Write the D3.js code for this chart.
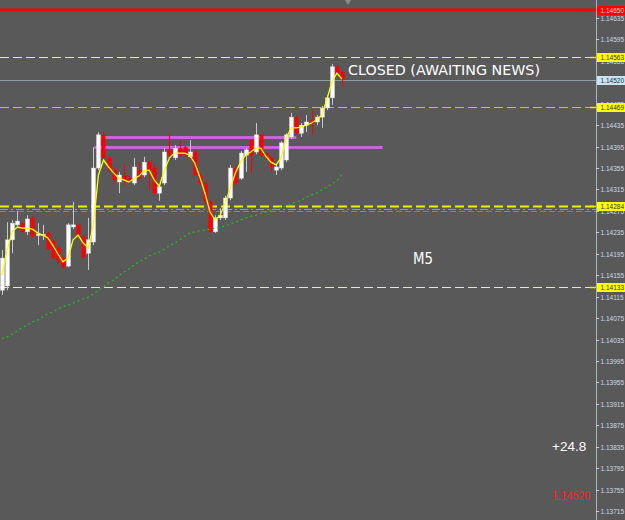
<!DOCTYPE html>
<html><head><meta charset="utf-8">
<script src="https://cdn.jsdelivr.net/npm/d3@7/dist/d3.min.js"></script>
<style>html,body{margin:0;padding:0;background:#595959;overflow:hidden}svg{display:block}</style>
</head><body>
<svg id="c" width="625" height="520"></svg>
<script>
// ---- data (M5 candles) ----
const opens  = [1.14127,1.14135,1.14221,1.14249,1.14252,1.14236,1.14262,1.14229,1.14230,1.14234,1.14219,1.14206,1.14187,1.14172,1.14245,1.14249,1.14227,1.14196,1.14217,1.14355,1.14417,1.14374,1.14351,1.14329,1.14342,1.14336,1.14327,1.14351,1.14342,1.14366,1.14355,1.14308,1.14327,1.14389,1.14374,1.14392,1.14394,1.14376,1.14385,1.14342,1.14327,1.14292,1.14236,1.14262,1.14262,1.14299,1.14355,1.14336,1.14379,1.14407,1.14385,1.14417,1.14383,1.14374,1.14351,1.14355,1.14370,1.14413,1.14450,1.14420,1.14435,1.14445,1.14441,1.14450,1.14467,1.14486,1.14544,1.14534];
const highs  = [1.14202,1.14254,1.14258,1.14275,1.14254,1.14267,1.14265,1.14252,1.14249,1.14236,1.14221,1.14210,1.14191,1.14252,1.14292,1.14252,1.14230,1.14262,1.14394,1.14422,1.14422,1.14379,1.14357,1.14348,1.14361,1.14340,1.14374,1.14366,1.14376,1.14370,1.14361,1.14323,1.14392,1.14417,1.14398,1.14407,1.14396,1.14407,1.14389,1.14346,1.14331,1.14295,1.14267,1.14280,1.14303,1.14361,1.14359,1.14387,1.14392,1.14407,1.14439,1.14420,1.14385,1.14377,1.14361,1.14405,1.14420,1.14458,1.14454,1.14439,1.14454,1.14463,1.14454,1.14471,1.14491,1.14549,1.14547,1.14538];
const lows   = [1.14118,1.14127,1.14196,1.14247,1.14234,1.14230,1.14225,1.14211,1.14221,1.14202,1.14185,1.14176,1.14167,1.14170,1.14241,1.14225,1.14185,1.14165,1.14211,1.14351,1.14370,1.14348,1.14327,1.14308,1.14323,1.14325,1.14323,1.14333,1.14338,1.14314,1.14305,1.14294,1.14323,1.14374,1.14370,1.14376,1.14374,1.14374,1.14340,1.14323,1.14288,1.14234,1.14234,1.14258,1.14258,1.14295,1.14323,1.14333,1.14348,1.14346,1.14381,1.14376,1.14370,1.14348,1.14342,1.14351,1.14366,1.14409,1.14417,1.14413,1.14422,1.14417,1.14435,1.14430,1.14463,1.14473,1.14529,1.14506];
const closes = [1.14187,1.14221,1.14252,1.14256,1.14236,1.14260,1.14227,1.14232,1.14231,1.14204,1.14187,1.14180,1.14170,1.14249,1.14249,1.14227,1.14189,1.14221,1.14355,1.14417,1.14374,1.14351,1.14333,1.14342,1.14333,1.14329,1.14357,1.14336,1.14366,1.14348,1.14308,1.14320,1.14385,1.14379,1.14392,1.14379,1.14383,1.14385,1.14342,1.14327,1.14292,1.14236,1.14262,1.14267,1.14299,1.14355,1.14327,1.14383,1.14389,1.14379,1.14417,1.14379,1.14374,1.14357,1.14357,1.14402,1.14417,1.14450,1.14420,1.14435,1.14441,1.14439,1.14450,1.14467,1.14486,1.14544,1.14532,1.14520];
// fast moving average (yellow)
const fastMA = [1.14155,1.14202,1.14236,1.14245,1.14243,1.14243,1.14241,1.14234,1.14230,1.14225,1.14211,1.14195,1.14180,1.14187,1.14221,1.14230,1.14215,1.14206,1.14249,1.14342,1.14370,1.14357,1.14346,1.14336,1.14333,1.14329,1.14335,1.14340,1.14350,1.14351,1.14333,1.14321,1.14351,1.14374,1.14383,1.14383,1.14383,1.14379,1.14364,1.14338,1.14308,1.14273,1.14258,1.14267,1.14290,1.14318,1.14346,1.14366,1.14379,1.14385,1.14392,1.14392,1.14377,1.14366,1.14361,1.14374,1.14411,1.14430,1.14430,1.14432,1.14435,1.14439,1.14445,1.14454,1.14482,1.14516,1.14532,1.14521];
// slow moving average (green dotted)
const slowMA = [1.14036,1.14040,1.14045,1.14051,1.14057,1.14062,1.14068,1.14071,1.14077,1.14083,1.14086,1.14092,1.14096,1.14099,1.14103,1.14107,1.14111,1.14114,1.14120,1.14127,1.14133,1.14141,1.14146,1.14154,1.14161,1.14167,1.14174,1.14180,1.14185,1.14191,1.14195,1.14198,1.14204,1.14210,1.14215,1.14221,1.14228,1.14234,1.14236,1.14238,1.14239,1.14241,1.14243,1.14244,1.14247,1.14251,1.14254,1.14258,1.14262,1.14265,1.14267,1.14271,1.14273,1.14277,1.14279,1.14282,1.14284,1.14288,1.14292,1.14295,1.14301,1.14305,1.14308,1.14314,1.14320,1.14325,1.14331,1.14344];
// price axis ticks
const tickValues = [1.13715,1.13755,1.13795,1.13835,1.13875,1.13915,1.13955,1.13995,1.14035,1.14075,1.14115,1.14155,1.14195,1.14235,1.14275,1.14315,1.14355,1.14395,1.14435,1.14475,1.14515,1.14555,1.14595,1.14635];
// horizontal levels
const stopLevel = 1.14650;
const dashedLevels = [1.14563, 1.14469, 1.14284, 1.14133];
const bidPrice = 1.14520;
const orangeLevel = 1.14279;
const blueLevel = 1.14275;
const tagLevels = [1.14650, 1.14563, 1.14520, 1.14469, 1.14284, 1.14133];
// violet levels: price, start bar, end bar
const violetPrices = [1.14413, 1.14394];
const violetStart = [19.6, 18.2];
const violetEnd = [58, 75];
const comment = "CLOSED (AWAITING NEWS)";
const tfLabel = "M5";
const profitText = "+24.8";
const bidText = "1.14520";

// ---- drawing ----
const W = 625, H = 520, axisX = 596;
const svg = d3.select("#c");
const y = d3.scaleLinear().domain([1.136982, 1.146686]).range([H, 0]);
const x = d3.scaleLinear().domain([0, closes.length - 1]).range([2, 342]);
const fmt = d3.format(".5f");
const py = p => Math.round(y(p)) + 0.5;

svg.append("rect").attr("width", W).attr("height", H).attr("fill", "#595959");

// violet levels (behind candles)
violetPrices.forEach((p, i) => {
  svg.append("line")
    .attr("x1", x(violetStart[i])).attr("x2", x(violetEnd[i]))
    .attr("y1", py(p)).attr("y2", py(p))
    .attr("stroke", "#c466d6").attr("stroke-width", 3);
});

// horizontal level lines
const lv = svg.append("g");
lv.append("line").attr("x1", 0).attr("x2", W)
  .attr("y1", y(stopLevel)).attr("y2", y(stopLevel))
  .attr("stroke", "#ff0000").attr("stroke-width", 3);
const dashColors = ["#e6e6c0", "#c8c820", "#f0f000", "#e6e6d0"];
const dashWidths = [1, 1, 2, 1];
dashedLevels.forEach((p, i) => {
  lv.append("line").attr("x1", 0).attr("x2", axisX)
    .attr("y1", py(p)).attr("y2", py(p))
    .attr("stroke", dashColors[i]).attr("stroke-width", dashWidths[i])
    .attr("stroke-dasharray", "9,4");
});
lv.append("line").attr("x1", 0).attr("x2", axisX)
  .attr("y1", py(orangeLevel)).attr("y2", py(orangeLevel))
  .attr("stroke", "#e08a20").attr("stroke-width", 1).attr("stroke-dasharray", "8,3,2,3");
lv.append("line").attr("x1", 0).attr("x2", axisX)
  .attr("y1", py(blueLevel)).attr("y2", py(blueLevel))
  .attr("stroke", "#6a88a8").attr("stroke-width", 1).attr("stroke-dasharray", "6,3");
lv.append("line").attr("x1", 0).attr("x2", axisX)
  .attr("y1", py(bidPrice)).attr("y2", py(bidPrice))
  .attr("stroke", "#8e9caa").attr("stroke-width", 1);

// candles
const cg = svg.append("g");
closes.forEach((c, i) => {
  const o = opens[i], up = c >= o;
  const cx = Math.round(x(i)) + 0.5;
  cg.append("line").attr("x1", cx).attr("x2", cx)
    .attr("y1", y(highs[i])).attr("y2", y(lows[i]))
    .attr("stroke", up ? "#c8c8c8" : "#ff0000").attr("stroke-width", 1);
  const top = y(Math.max(o, c)), bot = y(Math.min(o, c));
  cg.append("rect").attr("x", cx - 2).attr("width", 4)
    .attr("y", top).attr("height", Math.max(1, bot - top))
    .attr("fill", up ? "#ffffff" : "#ff0000")
    .attr("stroke", up ? "#d8d8d8" : "none").attr("stroke-width", 0.5);
});

// moving averages
const lineGen = d3.line().x((d, i) => x(i)).y(d => y(d));
svg.append("path").datum(slowMA).attr("d", lineGen)
  .attr("fill", "none").attr("stroke", "#22bb22").attr("stroke-width", 1.3)
  .attr("stroke-dasharray", "2,3");
svg.append("path").datum(fastMA).attr("d", lineGen)
  .attr("fill", "none").attr("stroke", "#ffff00").attr("stroke-width", 1.3);

// price axis
svg.append("line").attr("x1", axisX + 0.5).attr("x2", axisX + 0.5).attr("y1", 0).attr("y2", H)
  .attr("stroke", "#aab2ba").attr("stroke-width", 1);
const ag = svg.append("g");
tickValues.forEach(t => {
  ag.append("line").attr("x1", axisX).attr("x2", axisX + 3).attr("y1", py(t)).attr("y2", py(t))
    .attr("stroke", "#c8d0d8");
  ag.append("text").attr("x", 600.5).attr("y", py(t)).attr("dy", "0.35em")
    .attr("font-family", "Liberation Sans, Arial, sans-serif").attr("font-size", 6.5)
    .attr("fill", "#d0dae4").text(fmt(t));
});

// price tags on the axis
const tagFill = ["#ff0000", "#ffff00", "#c8e4f4", "#ffff00", "#ffff00", "#ffff00"];
const tagText = ["#ffd0d0", "#303030", "#303030", "#303030", "#303030", "#303030"];
tagLevels.forEach((p, i) => {
  const ty = Math.round(y(p));
  ag.append("rect").attr("x", axisX + 1).attr("y", ty - 4).attr("width", W - axisX - 1).attr("height", 9)
    .attr("fill", tagFill[i]);
  ag.append("text").attr("x", 600.5).attr("y", ty + 0.5).attr("dy", "0.35em")
    .attr("font-family", "Liberation Sans, Arial, sans-serif").attr("font-size", 6.5)
    .attr("fill", tagText[i]).text(fmt(p));
});
// small marks left of axis
dashedLevels.forEach(p => {
  ag.append("line").attr("x1", axisX - 6).attr("x2", axisX).attr("y1", py(p)).attr("y2", py(p))
    .attr("stroke", "#e8e800").attr("stroke-width", 1.5);
});

// chart shift marker
svg.append("path").attr("d", d3.symbol().type(d3.symbolTriangle).size(22)())
  .attr("transform", "translate(348,1) rotate(180)").attr("fill", "#8c8c8c");

// texts
svg.append("text").attr("x", 348).attr("y", 75)
  .attr("font-family", "DejaVu Sans, sans-serif").attr("font-size", 14.5)
  .attr("textLength", 192).attr("lengthAdjust", "spacingAndGlyphs")
  .attr("fill", "#ffffff").text(comment);
svg.append("text").attr("x", 413).attr("y", 264)
  .attr("font-family", "DejaVu Sans, sans-serif").attr("font-size", 15)
  .attr("textLength", 20).attr("lengthAdjust", "spacingAndGlyphs")
  .attr("fill", "#ffffff").text(tfLabel);
svg.append("text").attr("x", 552).attr("y", 451)
  .attr("font-family", "Liberation Sans, Arial, sans-serif").attr("font-size", 13.5)
  .attr("fill", "#ffffff").text(profitText);
svg.append("text").attr("x", 552).attr("y", 500)
  .attr("font-family", "Liberation Sans, Arial, sans-serif").attr("font-size", 13)
  .attr("textLength", 38).attr("lengthAdjust", "spacingAndGlyphs")
  .attr("fill", "#ff2020").text(bidText);
</script>
</body></html>
